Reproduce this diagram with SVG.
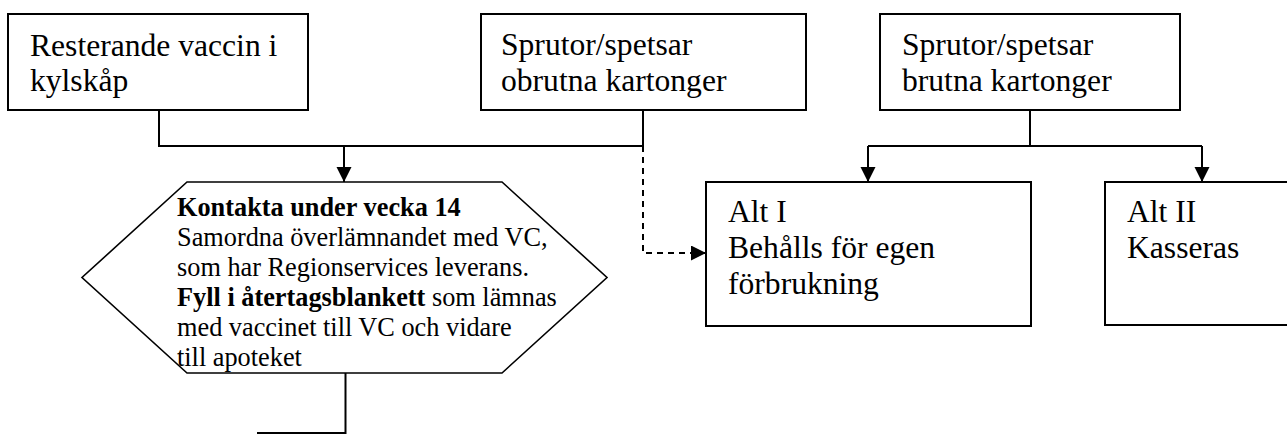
<svg xmlns="http://www.w3.org/2000/svg" width="1287" height="434" viewBox="0 0 1287 434">
<style>
.box{fill:#fff;stroke:#000;stroke-width:2}
.hex{fill:#fff;stroke:#000;stroke-width:1.6}
.t{font-family:"Liberation Serif","Times New Roman",serif;font-size:31.6px;fill:#000}
.s{font-family:"Liberation Serif","Times New Roman",serif;font-size:26.3px;fill:#000}
.b{font-weight:bold}
.ln{fill:none;stroke:#000;stroke-width:2}
.dash{stroke-dasharray:6,5}
</style>
<defs>
<marker id="arr" markerUnits="userSpaceOnUse" markerWidth="16" markerHeight="16" refX="15" refY="7.5" orient="auto">
<path d="M0,0 L15,7.5 L0,15 Z" fill="#000"/>
</marker>
</defs>
<rect width="1287" height="434" fill="#fff"/>
<g id="connectors">
<polyline class="ln" points="159,110 159,146 643,146 643,110"/>
<line class="ln" x1="344" y1="146" x2="344" y2="182" marker-end="url(#arr)"/>
<polyline class="ln dash" points="643,146 643,253 706,253" marker-end="url(#arr)"/>
<line class="ln" x1="1030" y1="110" x2="1030" y2="146"/>
<line class="ln" x1="868" y1="146" x2="1202" y2="146"/>
<line class="ln" x1="868" y1="146" x2="868" y2="182" marker-end="url(#arr)"/>
<line class="ln" x1="1202" y1="146" x2="1202" y2="182" marker-end="url(#arr)"/>
<polyline class="ln" points="345.5,373 345.5,433 257,433"/>
</g>
<g id="node-resterande">
<rect class="box" x="8" y="14" width="300" height="96"/>
<text class="t" x="30" y="56">Resterande vaccin i</text>
<text class="t" x="30" y="91">kylskåp</text>
</g>
<g id="node-obrutna">
<rect class="box" x="481" y="14" width="325" height="96"/>
<text class="t" x="501" y="55">Sprutor/spetsar</text>
<text class="t" x="501" y="91">obrutna kartonger</text>
</g>
<g id="node-brutna">
<rect class="box" x="880" y="14" width="300" height="96"/>
<text class="t" x="902" y="55">Sprutor/spetsar</text>
<text class="t" x="902" y="91">brutna kartonger</text>
</g>
<g id="node-kontakta">
<polygon class="hex" points="187,182 502,182 607,277.5 502,373 187,373 82,277.5"/>
<text class="s b" x="177" y="216">Kontakta under vecka 14</text>
<text class="s" x="177" y="246">Samordna överlämnandet med VC,</text>
<text class="s" x="177" y="276">som har Regionservices leverans.</text>
<text class="s" x="177" y="306"><tspan class="b">Fyll i återtagsblankett</tspan> som lämnas</text>
<text class="s" x="177" y="336">med vaccinet till VC och vidare</text>
<text class="s" x="177" y="366">till apoteket</text>
</g>
<g id="node-alt1">
<rect class="box" x="706" y="182" width="325" height="144"/>
<text class="t" x="728" y="222">Alt I</text>
<text class="t" x="728" y="258">Behålls för egen</text>
<text class="t" x="728" y="294">förbrukning</text>
</g>
<g id="node-alt2">
<rect class="box" x="1105" y="182" width="200" height="143"/>
<text class="t" x="1127" y="222">Alt II</text>
<text class="t" x="1127" y="258">Kasseras</text>
</g>
</svg>
